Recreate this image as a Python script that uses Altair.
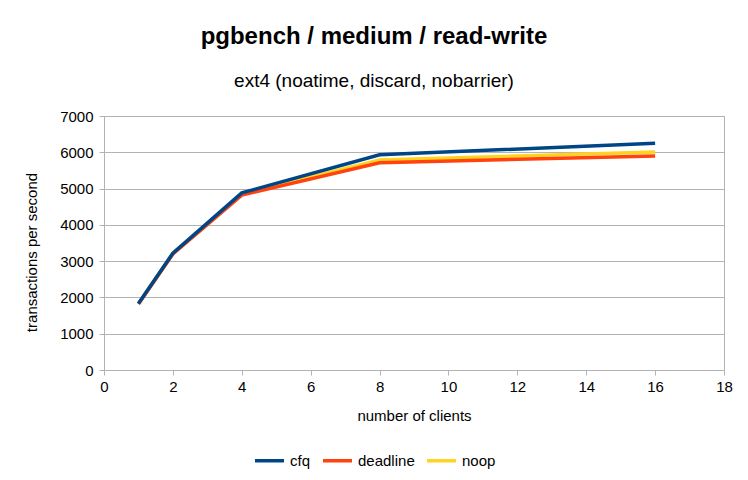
import altair as alt
import pandas as pd

clients = [1, 2, 4, 8, 16]
cfq = [1830, 3220, 4880, 5930, 6250]
deadline = [1820, 3200, 4820, 5710, 5900]
noop = [1825, 3210, 4850, 5790, 6005]

series_names = ["cfq", "deadline", "noop"]
series_colors = ["#004586", "#ff420e", "#ffd320"]
x_ticks = [0, 2, 4, 6, 8, 10, 12, 14, 16, 18]
y_ticks = [0, 1000, 2000, 3000, 4000, 5000, 6000, 7000]

rows = []
for name, vals in [("noop", noop), ("deadline", deadline), ("cfq", cfq)]:
    for c, v in zip(clients, vals):
        rows.append({"clients": c, "tps": v, "scheduler": name})
df = pd.DataFrame(rows)

grid = "#b3b3b3"
font = "Liberation Sans"

chart = alt.Chart(df).mark_line(strokeWidth=3.5).encode(
    x=alt.X("clients:Q",
            scale=alt.Scale(domain=[0, 18], nice=False, zero=False),
            axis=alt.Axis(values=x_ticks, title="number of clients", grid=False,
                          domainColor=grid, tickColor=grid, tickSize=5,
                          labelFontSize=15, labelFont=font, labelColor="#000",
                          labelPadding=4, labelFlush=False,
                          titleFontSize=15, titleFont=font, titleFontWeight="normal",
                          titleColor="#000", titlePadding=14)),
    y=alt.Y("tps:Q",
            scale=alt.Scale(domain=[0, 7000], nice=False),
            axis=alt.Axis(values=y_ticks, format="d", title="transactions per second",
                          grid=True, gridColor=grid, domainColor=grid, tickColor=grid,
                          tickSize=5, labelFontSize=15, labelFont=font, labelColor="#000",
                          labelPadding=6, labelFlush=False,
                          titleFontSize=15, titleFont=font, titleFontWeight="normal",
                          titleColor="#000", titleX=-65, titleY=136)),
    color=alt.Color("scheduler:N",
                    scale=alt.Scale(domain=series_names, range=series_colors),
                    legend=alt.Legend(title=None, orient="none", legendX=149, legendY=328,
                                      direction="horizontal", symbolType="stroke",
                                      symbolSize=841, symbolStrokeWidth=3.5,
                                      labelFontSize=15, labelFont=font, labelColor="#000",
                                      labelOffset=4, columnPadding=5)),
).properties(
    width=620,
    height=254,
    autosize=alt.AutoSizeParams(type="none"),
    padding={"left": 96, "top": 108, "right": 16, "bottom": 102},
    title=alt.TitleParams(text="pgbench / medium / read-write",
                          subtitle="ext4 (noatime, discard, nobarrier)",
                          font=font, subtitleFont=font, fontSize=24, subtitleFontSize=19,
                          fontWeight="bold", color="#000", subtitleColor="#000",
                          anchor="middle", dx=-40, offset=18, subtitlePadding=23),
).configure_view(stroke=grid)

chart.save("out.html", embed_options={"renderer": "svg", "actions": False})
